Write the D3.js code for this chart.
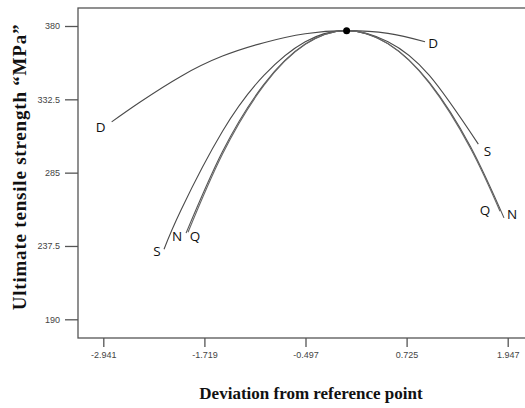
<!DOCTYPE html>
<html>
<head>
<meta charset="utf-8">
<script src="https://cdn.jsdelivr.net/npm/d3@7"></script>
<style>
  html, body { margin: 0; padding: 0; background: #fff; }
  svg { display: block; }
</style>
</head>
<body>
<svg id="chart" width="525" height="408"></svg>
<script>
// ---- data ----
const xTicks = [-2.941, -1.719, -0.497, 0.725, 1.947];
const xTickLabels = ["-2.941", "-1.719", "-0.497", "0.725", "1.947"];
const yTicks = [190, 237.5, 285, 332.5, 380];
const yTickLabels = ["190", "237.5", "285", "332.5", "380"];

const seriesNames = ["D", "S", "N", "Q"];
const dX = [-2.84, -2.5, -2.0, -1.5, -1.0, -0.5, 0, 0.5, 0.948];
const dY = [317.9, 330.6, 347.5, 360.5, 369.2, 375.0, 377, 375.2, 369.8];
const sX = [-2.207, -2.0, -1.5, -1.0, -0.5, 0, 0.5, 1.0, 1.592];
const sY = [235.4, 261.0, 311.8, 348.0, 369.8, 377, 369.8, 348.0, 303.5];
const nX = [-1.941, -1.5, -1.0, -0.5, 0, 0.5, 1.0, 1.5, 1.902];
const nY = [245.8, 298.7, 342.2, 368.3, 377, 368.6, 343.5, 301.6, 255.7];
const qX = [-1.917, -1.5, -1.0, -0.5, 0, 0.5, 1.0, 1.5, 1.854];
const qY = [246.4, 297.1, 341.5, 368.1, 377, 368.5, 343.0, 300.5, 260.0];
const refPoint = [0, 377];

const xTitle = "Deviation from reference point";
const yTitle = "Ultimate  tensile strength \u201CMPa\u201D";

// ---- drawing ----
const svg = d3.select("#chart");
const x = d3.scaleLinear().domain([-2.941, 1.947]).range([103.3, 507.7]);
const y = d3.scaleLinear().domain([190, 380]).range([319.3, 26]);

const frameL = 78, frameT = 8, frameR = 528, frameB = 338;
const axisColor = "#555";

// frame
svg.append("rect")
  .attr("x", frameL).attr("y", frameT)
  .attr("width", frameR - frameL).attr("height", frameB - frameT)
  .attr("fill", "none").attr("stroke", axisColor).attr("stroke-width", 1.3);

// x axis
const xAxis = d3.axisBottom(x).tickValues(xTicks)
  .tickFormat((d, i) => xTickLabels[i]).tickSize(9).tickPadding(5);
const gx = svg.append("g").attr("transform", `translate(0,${frameB})`).call(xAxis);
gx.select(".domain").remove();
gx.selectAll(".tick line").attr("stroke", axisColor).attr("stroke-width", 1.3);
gx.selectAll(".tick text").attr("fill", "#444")
  .style("font-family", "'Liberation Sans Narrow', 'Liberation Sans', Arial, sans-serif")
  .style("font-size", "9px");

// y axis
const yAxis = d3.axisLeft(y).tickValues(yTicks)
  .tickFormat((d, i) => yTickLabels[i]).tickSize(13).tickPadding(5);
const gy = svg.append("g").attr("transform", `translate(${frameL},0)`).call(yAxis);
gy.select(".domain").remove();
gy.selectAll(".tick line").attr("stroke", axisColor).attr("stroke-width", 1.3);
gy.selectAll(".tick text").attr("fill", "#444")
  .style("font-family", "'Liberation Sans Narrow', 'Liberation Sans', Arial, sans-serif")
  .style("font-size", "9px");

// curves
const line = d3.line().x(d => x(d[0])).y(d => y(d[1])).curve(d3.curveNatural);
const series = [
  { name: "D", xs: dX, ys: dY, color: "#4a4a4a" },
  { name: "S", xs: sX, ys: sY, color: "#4a4a4a" },
  { name: "N", xs: nX, ys: nY, color: "#555" },
  { name: "Q", xs: qX, ys: qY, color: "#666" }
];
series.forEach(s => {
  s.pts = s.xs.map((v, i) => [v, s.ys[i]]);
  svg.append("path").datum(s.pts)
    .attr("d", line).attr("fill", "none")
    .attr("stroke", s.color).attr("stroke-width", 1.1);
});

// curve labels: offsets from each end of the series (first end, last end)
const labelOffsets = {
  D: [[-11, 5], [8, 1]],
  S: [[-7, 2], [9, 7]],
  N: [[-9, 3], [8, -4]],
  Q: [[7, 4], [-15, -1]]
};
const labFont = "'Open Sans', 'Liberation Sans', sans-serif";
series.forEach(s => {
  const ends = [s.pts[0], s.pts[s.pts.length - 1]];
  ends.forEach((p, k) => {
    const o = labelOffsets[s.name][k];
    svg.append("text")
      .attr("x", x(p[0]) + o[0]).attr("y", y(p[1]) + o[1])
      .attr("text-anchor", "middle").attr("dominant-baseline", "central")
      .style("font-family", labFont).style("font-size", "13.5px")
      .attr("fill", "#111").text(s.name);
  });
});

// reference point
svg.append("circle").attr("cx", x(refPoint[0])).attr("cy", y(refPoint[1]))
  .attr("r", 3.5).attr("fill", "#000");

// titles
svg.append("text")
  .attr("x", 311).attr("y", 399)
  .attr("text-anchor", "middle")
  .style("font-family", "'Liberation Serif', 'Times New Roman', serif")
  .style("font-weight", "bold").style("font-size", "17px")
  .attr("fill", "#111").text(xTitle);

svg.append("text")
  .attr("transform", "translate(26,167) rotate(-90)")
  .attr("text-anchor", "middle")
  .style("font-family", "'Liberation Serif', 'Times New Roman', serif")
  .style("font-weight", "bold").style("font-size", "19px")
  .style("letter-spacing", "0.8px")
  .attr("fill", "#111").text(yTitle);
</script>
</body>
</html>
